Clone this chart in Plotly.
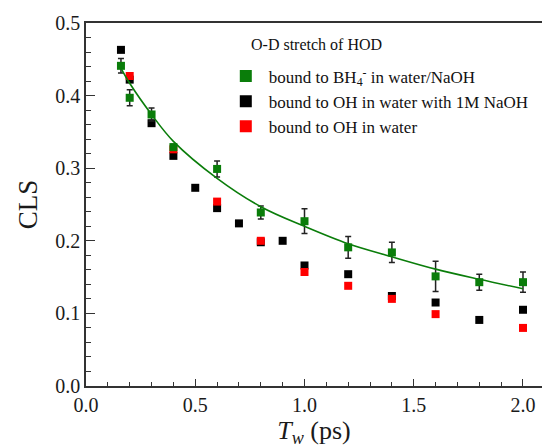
import plotly.graph_objects as go

# Waiting time T_w (ps) and CLS values
tw_bh4 = [0.16, 0.2, 0.3, 0.4, 0.6, 0.8, 1.0, 1.2, 1.4, 1.6, 1.8, 2.0]
cls_bh4 = [0.441, 0.397, 0.374, 0.329, 0.299, 0.239, 0.227, 0.191, 0.184, 0.151, 0.143, 0.143]
err_bh4 = [0.010, 0.011, 0.009, 0.004, 0.011, 0.009, 0.017, 0.015, 0.014, 0.021, 0.011, 0.014]

tw_naoh = [0.16, 0.2, 0.3, 0.4, 0.5, 0.6, 0.7, 0.8, 0.9, 1.0, 1.2, 1.4, 1.6, 1.8, 2.0]
cls_naoh = [0.463, 0.422, 0.362, 0.317, 0.273, 0.245, 0.224, 0.198, 0.200, 0.166, 0.154, 0.124, 0.115, 0.091, 0.105]

tw_water = [0.2, 0.4, 0.6, 0.8, 1.0, 1.2, 1.4, 1.6, 2.0]
cls_water = [0.427, 0.326, 0.254, 0.200, 0.157, 0.138, 0.120, 0.099, 0.080]

# Fitted decay curve for the BH4- bound population
tw_fit = [0.16, 0.2, 0.3, 0.4, 0.6, 0.8, 1.0, 1.2, 1.4, 1.6, 1.8, 2.0]
cls_fit = [0.438, 0.417, 0.374, 0.337, 0.286, 0.247, 0.220, 0.196, 0.178, 0.161, 0.147, 0.134]

SERIF = "Liberation Serif"
GREEN = "#0a7d0a"

fig = go.Figure()

fig.add_trace(go.Scatter(
    x=tw_naoh, y=cls_naoh, mode="markers", name="bound to OH in water with 1M NaOH",
    marker=dict(symbol="square", size=8, color="black"), legendrank=2))

fig.add_trace(go.Scatter(
    x=tw_water, y=cls_water, mode="markers", name="bound to OH in water",
    marker=dict(symbol="square", size=8, color="#ff0000"), legendrank=3))

fig.add_trace(go.Scatter(
    x=tw_bh4, y=cls_bh4, mode="markers",
    name="bound to BH<sub>4</sub><sup>-</sup> in water/NaOH",
    marker=dict(symbol="square", size=8, color=GREEN),
    error_y=dict(type="data", array=err_bh4, color="#222222", thickness=1.5, width=3),
    legendrank=1))

fig.add_trace(go.Scatter(
    x=tw_fit, y=cls_fit, mode="lines", showlegend=False,
    line=dict(color=GREEN, width=1.6, shape="spline", smoothing=1.0)))

fig.update_layout(
    width=542, height=448,
    margin=dict(l=86, r=0, t=23, b=62),
    plot_bgcolor="white", paper_bgcolor="white",
    font=dict(family=SERIF, size=20, color="#1a1a1a"),
    showlegend=True,
    legend=dict(
        x=0.3, y=0.902, xanchor="left", yanchor="top",
        bgcolor="rgba(0,0,0,0)",
        font=dict(family=SERIF, size=17, color="#111111"),
        itemsizing="constant", itemwidth=36,
        traceorder="normal",
    ),
    annotations=[dict(
        text="O-D stretch of HOD", xref="paper", yref="paper",
        x=0.358, y=0.94, xanchor="left", yanchor="middle", showarrow=False,
        font=dict(family=SERIF, size=16, color="#111111"),
    )],
)

fig.update_xaxes(
    range=[0, 2.087], showgrid=False, zeroline=False,
    showline=True, linecolor="#333333", linewidth=1.5, mirror=True,
    ticks="inside", ticklen=7, tickwidth=1.3, tickcolor="#333333",
    tick0=0, dtick=0.5, tickformat=".1f",
    minor=dict(ticks="inside", ticklen=4, tickwidth=1.2, tickcolor="#333333", dtick=0.1, tick0=0),
    title=dict(text="<i>T</i><sub><i>w</i></sub> (ps)", font=dict(family=SERIF, size=26), standoff=2),
)

fig.update_yaxes(
    range=[0, 0.5], showgrid=False, zeroline=False,
    showline=True, linecolor="#333333", linewidth=1.5, mirror=False,
    ticks="inside", ticklen=9, tickwidth=1.3, tickcolor="#333333",
    tick0=0, dtick=0.1, tickformat=".1f",
    minor=dict(ticks="inside", ticklen=5, tickwidth=1.2, tickcolor="#333333", dtick=0.02, tick0=0),
    title=dict(text="CLS", font=dict(family=SERIF, size=27), standoff=10),
)

fig.write_html("out.html")
